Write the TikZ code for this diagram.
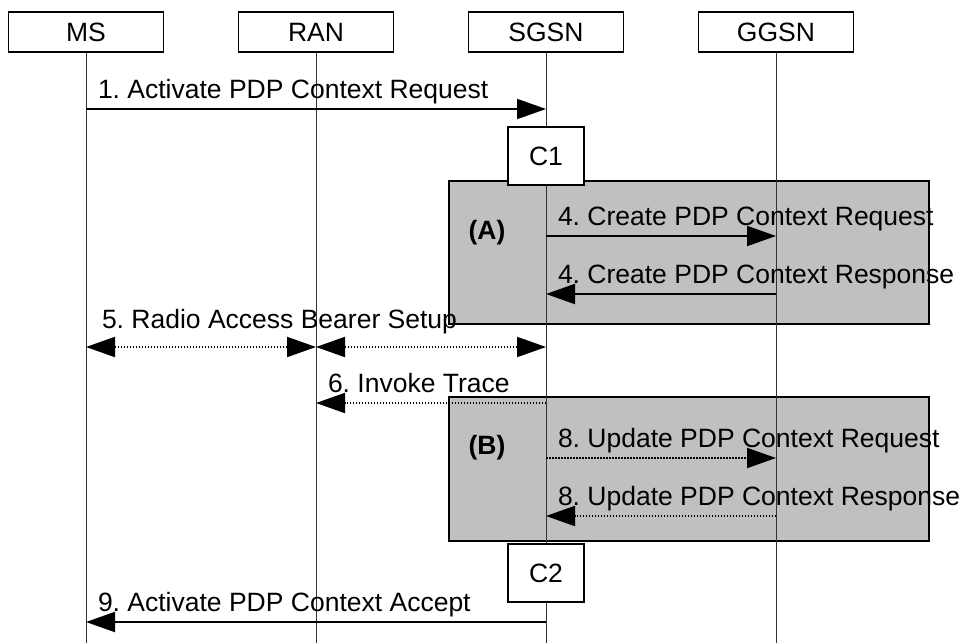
\documentclass[tikz,border=0pt]{standalone}
\usepackage{fontspec}
\setmainfont{Liberation Sans}
\usetikzlibrary{arrows.meta}
\definecolor{boxgray}{RGB}{192,192,192}
\frenchspacing

\begin{document}
\begin{tikzpicture}[x=1pt,y=-1pt,>={Triangle[length=29pt,width=20pt]},
  every node/.style={font=\fontsize{26.5}{32}\selectfont},
  entity/.style={draw,line width=1.5pt,fill=white,minimum width=155pt,minimum height=40pt,inner sep=0pt},
  cbox/.style={draw,line width=1.5pt,fill=white,minimum width=76pt,minimum height=58pt,inner sep=0pt},
  grayarea/.style={draw,line width=2pt,fill=boxgray},
  life/.style={line width=1pt,black!80},
  msg/.style={->,line width=2pt},
  dmsg/.style={msg,dash pattern=on 1.5pt off 1.5pt},
  lbl/.style={anchor=base west,inner sep=0pt,xshift=11pt,yshift=11pt},
  tag/.style={font=\fontsize{26.5}{32}\selectfont\bfseries}]
  \useasboundingbox (0,0) rectangle (962,643);
  % shaded procedure areas
  \draw[grayarea] (449,181) rectangle (929,324);
  \draw[grayarea] (449,397) rectangle (929,541);
  \node[tag] (tagA) at (487,233) {(A)};
  \node[tag] (tagB) at (487,448) {(B)};
  % entities and lifelines
  \foreach \n/\x/\t in {ms/86/MS,ran/316/RAN,sgsn/546/SGSN,ggsn/776/GGSN}{
    \node[entity] (\n) at (\x,32) {\t};
    \draw[life] (\n.south) -- (\n.south |- 0,643);
  }
  \node[cbox] (c1) at (546,156) {C1};
  \node[cbox] (c2) at (546,573) {C2};
  % messages
  \draw[msg] (ms |- 0,109) -- node[lbl,pos=0] (m1) {1. Activate PDP Context Request} (sgsn |- 0,109);
  \draw[msg] (sgsn |- 0,236) -- node[lbl,pos=0] (m4a) {4. Create PDP Context Request} (ggsn |- 0,236);
  \draw[msg] (ggsn |- 0,294) -- node[lbl,pos=1] (m4b) {4. Create PDP Context Response} (sgsn |- 0,294);
  \draw[dmsg,<->] (ms |- 0,347) -- node[lbl,pos=0,xshift=4pt,yshift=8pt] (m5) {5. Radio Access Bearer Setup} (ran |- 0,347);
  \draw[dmsg,<->] (ran |- 0,347) -- (sgsn |- 0,347);
  \draw[dmsg] (sgsn |- 0,403) -- node[lbl,pos=1] (m6) {6. Invoke Trace} (ran |- 0,403);
  \draw[dmsg] (sgsn |- 0,458) -- node[lbl,pos=0] (m8a) {8. Update PDP Context Request} (ggsn |- 0,458);
  \draw[dmsg] (ggsn |- 0,516) -- node[lbl,pos=1] (m8b) {8. Update PDP Context Response} (sgsn |- 0,516);
  \draw[msg] (sgsn |- 0,622) -- node[lbl,pos=1] (m9) {9. Activate PDP Context Accept} (ms |- 0,622);
\end{tikzpicture}
\end{document}
